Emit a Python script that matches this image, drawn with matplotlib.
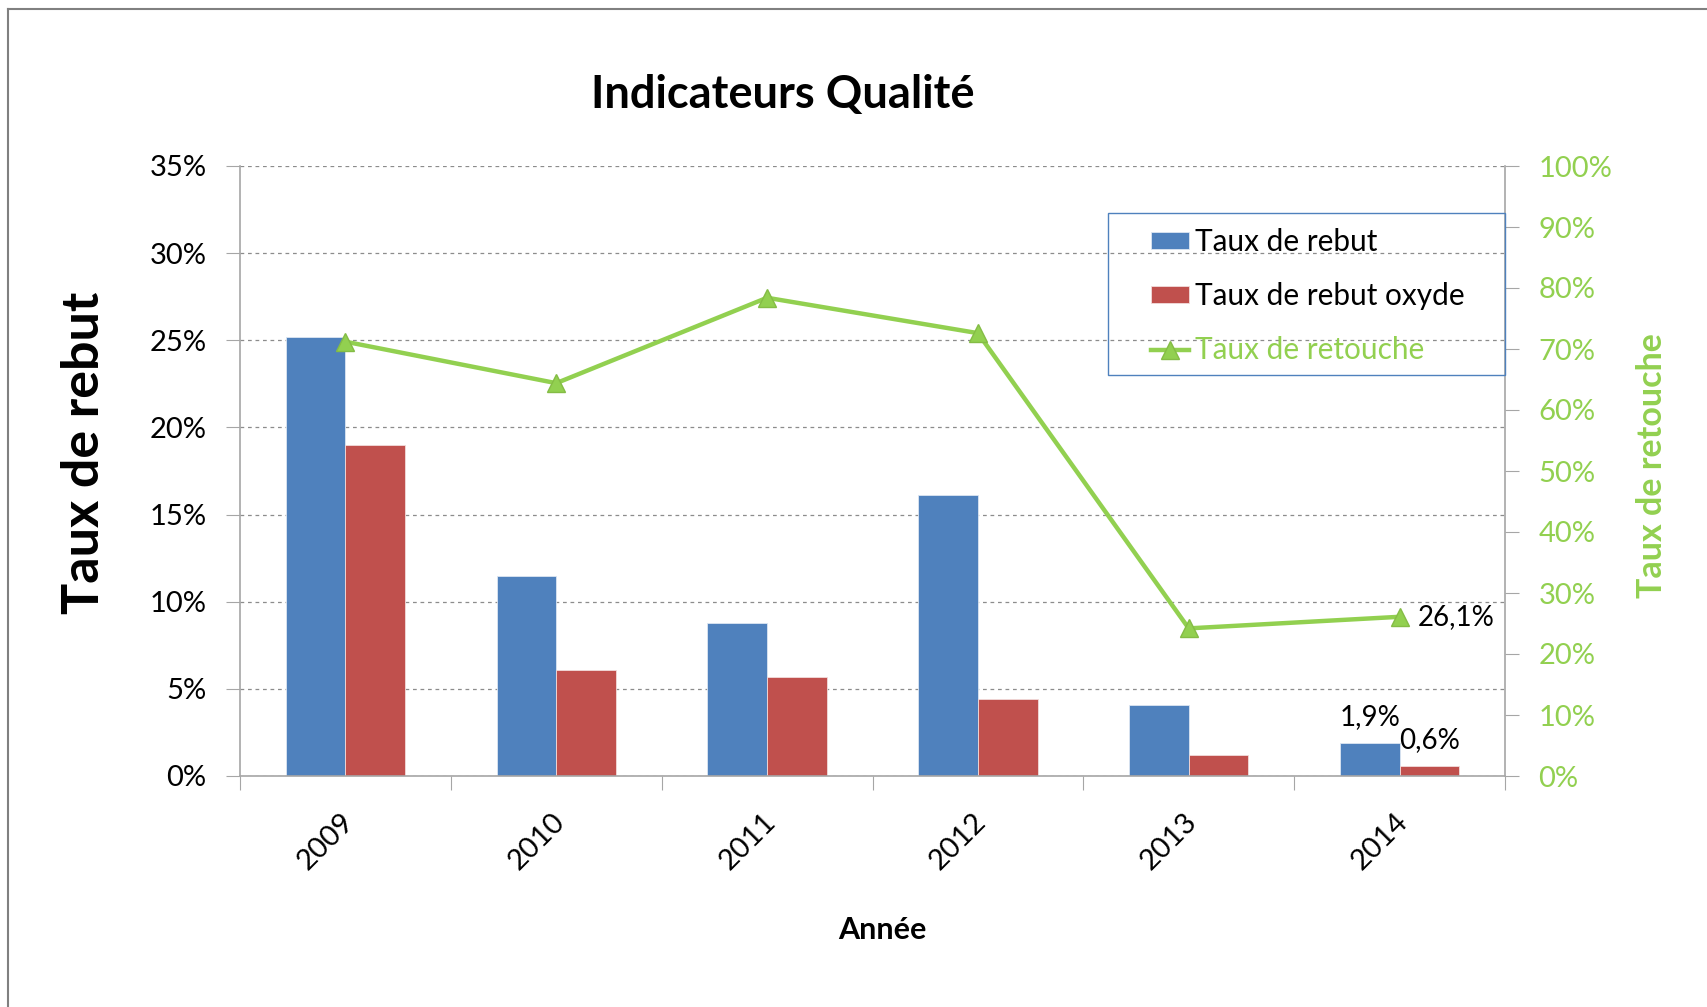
import numpy as np
import matplotlib
matplotlib.use('Agg')
import matplotlib.pyplot as plt
from matplotlib.ticker import PercentFormatter, MultipleLocator, FixedLocator, NullFormatter
from matplotlib.lines import Line2D
from matplotlib.patches import Rectangle

annees = ['2009', '2010', '2011', '2012', '2013', '2014']
taux_rebut = [25.2, 11.5, 8.8, 16.1, 4.1, 1.9]
taux_rebut_oxyde = [19.0, 6.1, 5.7, 4.4, 1.2, 0.6]
taux_retouche = [71.2, 64.4, 78.4, 72.6, 24.2, 26.1]

plt.rcParams['font.family'] = ['Lato', 'DejaVu Sans']

bleu = '#4F81BD'
rouge = '#C0504D'
vert = '#92D050'
gris = '#A6A6A6'

W, H = 1707, 1007
fig = plt.figure(figsize=(W / 100, H / 100), dpi=100)
ax = fig.add_axes([240 / W, 1 - 776 / H, 1265 / W, 610 / H])
ax2 = ax.twinx()

x = np.arange(len(annees))
bw = 0.283
b1 = ax.bar(x - bw / 2, taux_rebut, bw, color=bleu, edgecolor='#DCE6F2', linewidth=0.6, label='Taux de rebut')
b2 = ax.bar(x + bw / 2, taux_rebut_oxyde, bw, color=rouge, edgecolor='#F2DCDB', linewidth=0.6, label='Taux de rebut oxyde')
l1, = ax2.plot(x, taux_retouche, color=vert, lw=3.2, marker='^', markersize=13,
               markerfacecolor=vert, markeredgecolor='#84BC45', label='Taux de retouche')

# axe gauche
ax.set_xlim(-0.5, len(annees) - 0.5)
ax.set_ylim(0, 35)
ax.yaxis.set_major_locator(MultipleLocator(5))
ax.yaxis.set_major_formatter(PercentFormatter(100, decimals=0))
ax.grid(axis='y', color='#8C8C8C', linestyle=(0, (3, 3)), linewidth=0.9)
ax.set_axisbelow(True)
ax.tick_params(axis='y', length=10, color=gris, labelsize=21, pad=14)

ax.xaxis.set_major_locator(FixedLocator(np.arange(-0.5, len(annees), 1.0)))
ax.xaxis.set_major_formatter(NullFormatter())
ax.xaxis.set_minor_locator(FixedLocator(x + 0.02))
ax.set_xticklabels(annees, minor=True)
ax.tick_params(axis='x', which='major', length=10, color=gris)
ax.tick_params(axis='x', which='minor', length=0, labelsize=21, pad=30)
for t in ax.get_xticklabels(minor=True):
    t.set_rotation(45)
    t.set_ha('right')
    t.set_va('center')
    t.set_rotation_mode('anchor')

for s in ['top', 'right']:
    ax.spines[s].set_visible(False)
for s in ['left', 'bottom']:
    ax.spines[s].set_color(gris)
    ax.spines[s].set_linewidth(1.2)

# axe droit
ax2.set_ylim(0, 100)
ax2.yaxis.set_major_locator(MultipleLocator(10))
ax2.yaxis.set_major_formatter(PercentFormatter(100, decimals=0))
ax2.tick_params(axis='y', length=10, color=gris, labelsize=21, labelcolor=vert, pad=14)
for s in ['top', 'left', 'bottom']:
    ax2.spines[s].set_visible(False)
ax2.spines['right'].set_color(gris)
ax2.spines['right'].set_linewidth(1.2)

# étiquettes de données
ax.annotate('1,9%', (x[-1] - bw / 2, taux_rebut[-1]), xytext=(0, 9), textcoords='offset points',
            ha='center', va='bottom', fontsize=20)
ax.annotate('0,6%', (x[-1] + bw / 2, taux_rebut_oxyde[-1]), xytext=(0, 9), textcoords='offset points',
            ha='center', va='bottom', fontsize=20)
ax2.annotate('26,1%', (x[-1], taux_retouche[-1]), xytext=(13, 0), textcoords='offset points',
             ha='left', va='center', fontsize=20)

# titres
fig.text(783 / W, 1 - 95 / H, 'Indicateurs Qualité', ha='center', va='center', fontsize=32.5, fontweight='bold')
fig.text(882 / W, 1 - 930 / H, 'Année', ha='center', va='center', fontsize=22, fontweight='bold')
fig.text(85 / W, 1 - 453 / H, 'Taux de rebut', ha='center', va='center', rotation=90,
         fontsize=37.5, fontweight='bold')
fig.text(1652 / W, 1 - 466 / H, 'Taux de retouche', ha='center', va='center', rotation=90,
         fontsize=24.5, fontweight='bold', color=vert)

# légende
fig.patches.append(Rectangle((1108 / W, 1 - 375 / H), 397 / W, 162 / H, transform=fig.transFigure,
                             fill=False, edgecolor=bleu, linewidth=1.0, zorder=5))
leg = ax2.legend(handles=[b1, b2, l1], loc='upper left', bbox_to_anchor=(1151 / W, 1 - 228 / H),
                 bbox_transform=fig.transFigure, frameon=False, fontsize=21.4, borderpad=0,
                 borderaxespad=0, handlelength=1.28, handleheight=0.54, handletextpad=0.2,
                 labelspacing=0.88, numpoints=1)
leg.get_texts()[2].set_color(vert)

# cadre extérieur
fig.add_artist(Line2D([8 / W, 8 / W], [0, 1 - 9 / H], color='#808080', lw=1.5, transform=fig.transFigure))
fig.add_artist(Line2D([8 / W, 1], [1 - 9 / H, 1 - 9 / H], color='#808080', lw=1.5, transform=fig.transFigure))

fig.savefig('out.png', dpi=100)
